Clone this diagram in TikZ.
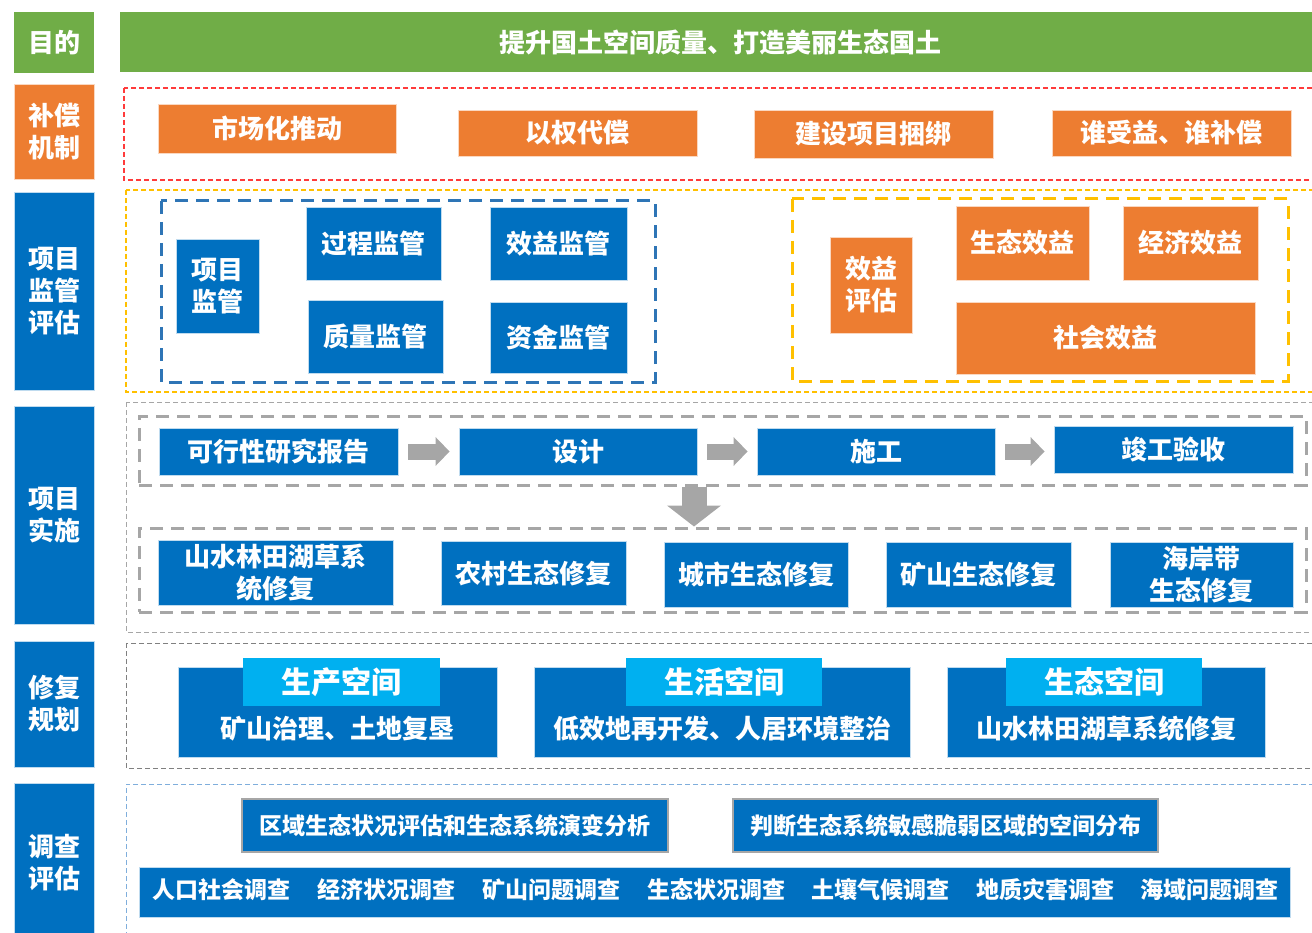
\documentclass[tikz,border=0pt]{standalone}
\usepackage{fontspec}
\newfontfamily\cjk{Noto Sans CJK SC}
\usetikzlibrary{arrows.meta}
\definecolor{goalgreen}{HTML}{70AD47}
\definecolor{payorange}{HTML}{ED7D31}
\definecolor{workblue}{HTML}{0070C0}
\definecolor{headblue}{HTML}{00B0F0}
\definecolor{arrowgray}{HTML}{A6A6A6}
\definecolor{framered}{HTML}{FF3B3B}
\definecolor{frameyellow}{HTML}{FFC000}
\definecolor{frameblue}{HTML}{2E75B6}
\definecolor{framesky}{HTML}{7FAEDC}
\newcommand\boxfont[1]{\cjk\bfseries\fontsize{#1}{32}\selectfont}

\begin{document}
\begin{tikzpicture}[x=1pt, y=-1pt,
	every node/.style={font=\boxfont{26}, text=white, align=center, inner sep=0pt},
	side/.style={minimum width=80pt},
	goalbox/.style={fill=goalgreen},
	paybox/.style={fill=payorange, draw=white!70!payorange, line width=0.8pt},
	workbox/.style={fill=workblue, draw=white!75!workblue, line width=0.8pt},
	headbox/.style={fill=headblue, font=\boxfont{30}},
	surveybox/.style={fill=workblue, draw=gray!70, line width=1.5pt, font=\boxfont{23}},
	surveytext/.style={font=\boxfont{23}},
	thinframe/.style={dash pattern=on 5pt off 3pt, line width=1.2pt},
	thickframe/.style={dash pattern=on 13pt off 8pt, line width=3pt},
	flowarr/.style={draw=arrowgray, line width=16pt, -{Triangle[length=14pt, width=28pt]}, shorten <=10pt, shorten >=9pt},
	downarr/.style={draw=arrowgray, line width=25pt, -{Triangle[length=21pt, width=53pt]}}]
	\useasboundingbox (0,0) rectangle (1312,933);
	% row titles
	\node[side, goalbox, minimum height=61pt] (lgoal) at (54,42.5) {目的};
	\node[side, paybox, minimum height=95pt] (lpay) at (54,131.5) {补偿\\机制};
	\node[side, workbox, minimum height=198pt] (lsuper) at (54,291) {项目\\监管\\评估};
	\node[side, workbox, minimum height=218pt] (limpl) at (54,515) {项目\\实施};
	\node[side, workbox, minimum height=126pt] (lplan) at (54,704) {修复\\规划};
	\node[side, workbox, minimum height=160pt] (lsurvey) at (54,863) {调查\\评估};
	% goal
	\node[goalbox, minimum width=1200pt, minimum height=60pt] (goal) at (720,42) {提升国土空间质量、打造美丽生态国土};
	% compensation
	\draw[framered, thinframe] (124,88) rectangle (1330,180);
	\node[paybox, minimum width=238pt, minimum height=49pt] (market) at (277,128.5) {市场化推动};
	\node[paybox, minimum width=239pt, minimum height=46pt] (equity) at (577.5,133) {以权代偿};
	\node[paybox, minimum width=239pt, minimum height=48pt] (bundle) at (873.5,134) {建设项目捆绑};
	\node[paybox, minimum width=239pt, minimum height=46pt] (payer) at (1171.5,133) {谁受益、谁补偿};
	% supervision and evaluation
	\draw[frameyellow, thinframe] (126,190) rectangle (1330,392);
	\draw[frameblue, thickframe] (161,201) rectangle (655,382);
	\node[workbox, minimum width=83pt, minimum height=94pt] (super) at (217.5,286) {项目\\监管};
	\node[workbox, minimum width=135pt, minimum height=73pt] (process) at (373.5,243.5) {过程监管};
	\node[workbox, minimum width=137pt, minimum height=73pt] (effect) at (558.5,243.5) {效益监管};
	\node[workbox, minimum width=135pt, minimum height=73pt] (quality) at (375.5,336.5) {质量监管};
	\node[workbox, minimum width=137pt, minimum height=71pt] (fund) at (558.5,337.5) {资金监管};
	\draw[frameyellow, thickframe] (792,199) rectangle (1288,381);
	\node[paybox, minimum width=82pt, minimum height=96pt] (assess) at (871,285) {效益\\评估};
	\node[paybox, minimum width=133pt, minimum height=74pt] (ecoben) at (1022.5,243) {生态效益};
	\node[paybox, minimum width=135pt, minimum height=74pt] (econben) at (1190.5,243) {经济效益};
	\node[paybox, minimum width=299pt, minimum height=72pt] (socben) at (1105.5,338) {社会效益};
	% implementation
	\draw[arrowgray, thinframe, line width=1pt] (126,402) rectangle (1330,632);
	\node[draw=arrowgray, thickframe, minimum width=1167pt, minimum height=69pt] (flow) at (722.5,450.5) {};
	\node[draw=arrowgray, thickframe, minimum width=1167pt, minimum height=84pt] (repair) at (722.5,570) {};
	\node[workbox, minimum width=239pt, minimum height=47pt] (feas) at (278.5,451.5) {可行性研究报告};
	\node[workbox, minimum width=238pt, minimum height=47pt] (design) at (578,451.5) {设计};
	\node[workbox, minimum width=238pt, minimum height=47pt] (build) at (876,451.5) {施工};
	\node[workbox, minimum width=239pt, minimum height=47pt] (accept) at (1173.5,449.5) {竣工验收};
	\draw[flowarr] (feas) -- (design);
	\draw[flowarr] (design) -- (build);
	\draw[flowarr] (build.east) -- (build.east -| accept.west);
	\coordinate (split) at (694,0);
	\draw[downarr] (flow.south -| split) -- (repair.north -| split);
	\node[workbox, minimum width=235pt, minimum height=65pt] (system) at (275.5,572.5) {山水林田湖草系\\统修复};
	\node[workbox, minimum width=185pt, minimum height=64pt] (rural) at (533.5,573) {农村生态修复};
	\node[workbox, minimum width=184pt, minimum height=65pt] (urban) at (756,574.5) {城市生态修复};
	\node[workbox, minimum width=185pt, minimum height=65pt] (mine) at (978.5,574.5) {矿山生态修复};
	\node[workbox, minimum width=183pt, minimum height=65pt] (coast) at (1201.5,574.5) {海岸带\\生态修复};
	% restoration planning
	\draw[gray, thinframe, line width=1pt] (126,643) rectangle (1330,768);
	\node[workbox, minimum width=319pt, minimum height=90pt] (prod) at (337.5,712) {};
	\node[headbox, minimum width=197pt, minimum height=48pt] (prodhead) at (341.5,682) {生产空间};
	\node (prodtext) at (337.5,729) {矿山治理、土地复垦};
	\node[workbox, minimum width=376pt, minimum height=90pt] (life) at (722,712) {};
	\node[headbox, minimum width=196pt, minimum height=48pt] (lifehead) at (724,682) {生活空间};
	\node (lifetext) at (722,729) {低效地再开发、人居环境整治};
	\node[workbox, minimum width=318pt, minimum height=90pt] (eco) at (1106,712) {};
	\node[headbox, minimum width=196pt, minimum height=48pt] (ecohead) at (1104,682) {生态空间};
	\node (ecotext) at (1106,729) {山水林田湖草系统修复};
	% survey and evaluation
	\draw[framesky, thinframe, line width=1pt] (1330,784) -- (126,784) -- (126,950);
	\node[surveybox, minimum width=426pt, minimum height=53pt] (region) at (455,825.5) {区域生态状况评估和生态系统演变分析};
	\node[surveybox, minimum width=425pt, minimum height=53pt] (fragile) at (945.5,825.5) {判断生态系统敏感脆弱区域的空间分布};
	\node[workbox, minimum width=1151pt, minimum height=50pt] (surveys) at (714.5,892) {};
	\node[surveytext] (people) at (221,890) {人口社会调查};
	\node[surveytext] (economy) at (386,890) {经济状况调查};
	\node[surveytext] (minesv) at (551,890) {矿山问题调查};
	\node[surveytext] (ecology) at (716,890) {生态状况调查};
	\node[surveytext] (soil) at (880,890) {土壤气候调查};
	\node[surveytext] (geo) at (1045,890) {地质灾害调查};
	\node[surveytext] (sea) at (1209,890) {海域问题调查};
\end{tikzpicture}
\end{document}
